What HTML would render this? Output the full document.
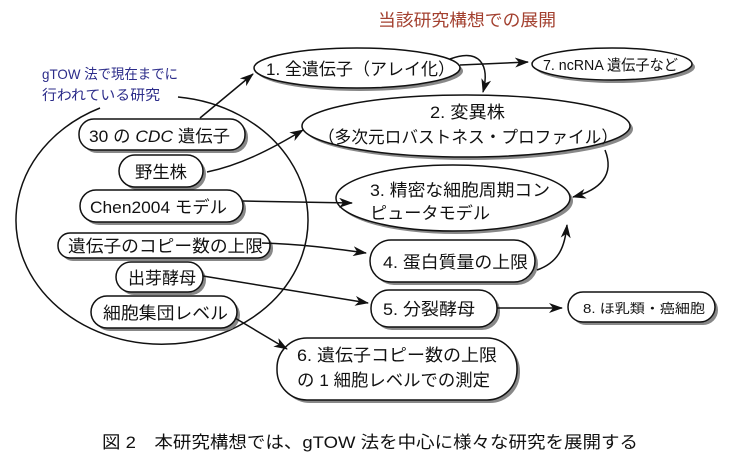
<!DOCTYPE html>
<html><head><meta charset="utf-8"><style>
body{margin:0;background:#fff}
svg{display:block}
text{font-family:"Liberation Sans","Noto Sans CJK JP",sans-serif;fill:#111}
</style></head><body>
<svg width="741" height="472" viewBox="0 0 741 472">
<defs>
<marker id="a" markerWidth="14" markerHeight="10" refX="13" refY="5" orient="auto" markerUnits="userSpaceOnUse"><path d="M0,0 L14,5 L0,10 L4,5 Z" fill="#111"/></marker>
</defs>
<text x="378" y="26" font-size="17" textLength="178" lengthAdjust="spacingAndGlyphs" style="fill:#a3402f">当該研究構想での展開</text>
<text x="42" y="79" font-size="14" textLength="136" lengthAdjust="spacingAndGlyphs" style="fill:#2c2c8a">gTOW 法で現在までに</text>
<text x="42" y="100" font-size="14" textLength="118" lengthAdjust="spacingAndGlyphs" style="fill:#2c2c8a">行われている研究</text>
<path d="M178,97 A146,124 0 1 1 100,108" fill="none" stroke="#111" stroke-width="1.5"/>
<g stroke="#111" stroke-width="1.5">
<g fill="#888" stroke="none">
<ellipse cx="360" cy="71" rx="103" ry="20"/>
<ellipse cx="615" cy="67" rx="80" ry="16"/>
<ellipse cx="469" cy="129" rx="164" ry="31"/>
<ellipse cx="456" cy="201" rx="117" ry="33"/>
<rect x="373" y="243" width="165" height="42" rx="21"/>
<rect x="374" y="293" width="126" height="37" rx="18"/>
<rect x="571" y="295" width="147" height="30" rx="15"/>
<rect x="280" y="341" width="240" height="62" rx="30"/>
<rect x="82" y="122" width="166" height="31" rx="15"/>
<rect x="122" y="158" width="84" height="32" rx="16"/>
<rect x="83" y="193" width="163" height="32" rx="16"/>
<rect x="61" y="236" width="212" height="25" rx="12"/>
<rect x="119" y="265" width="87" height="30" rx="15"/>
<rect x="94" y="299" width="146" height="32" rx="16"/>
</g>
<g fill="#fff">
<ellipse cx="357" cy="68" rx="103" ry="20"/>
<ellipse cx="612" cy="64" rx="80" ry="16"/>
<ellipse cx="466" cy="126" rx="164" ry="31"/>
<ellipse cx="453" cy="198" rx="117" ry="33"/>
<rect x="370" y="240" width="165" height="42" rx="21"/>
<rect x="371" y="290" width="126" height="37" rx="18"/>
<rect x="568" y="292" width="147" height="30" rx="15"/>
<rect x="277" y="338" width="240" height="62" rx="30"/>
<rect x="79" y="119" width="166" height="31" rx="15"/>
<rect x="119" y="155" width="84" height="32" rx="16"/>
<rect x="80" y="190" width="163" height="32" rx="16"/>
<rect x="58" y="233" width="212" height="25" rx="12"/>
<rect x="116" y="262" width="87" height="30" rx="15"/>
<rect x="91" y="296" width="146" height="32" rx="16"/>
</g>
<g fill="none" marker-end="url(#a)">
<path d="M200,118 L253,74"/>
<path d="M207,172 C240,165 270,150 303,130"/>
<path d="M243,201 L352,203"/>
<path d="M262,243 C300,244 330,248 366,253"/>
<path d="M203,276 L368,303"/>
<path d="M235,318 L287,349"/>
<path d="M460,65 L528,62"/>
<path d="M450,59 C480,48 490,65 483,92"/>
<path d="M605,150 C615,175 600,190 573,197"/>
<path d="M537,270 C560,262 565,245 567,225"/>
<path d="M497,308 L562,308"/>
</g>
</g>
<g lengthAdjust="spacingAndGlyphs">
<text x="266" y="75" font-size="17" textLength="189" lengthAdjust="spacingAndGlyphs">1. 全遺伝子（アレイ化）</text>
<text x="543" y="70" font-size="15" textLength="135" lengthAdjust="spacingAndGlyphs">7. ncRNA 遺伝子など</text>
<text x="430" y="118" font-size="17" textLength="75" lengthAdjust="spacingAndGlyphs">2. 変異株</text>
<text x="318" y="143" font-size="17" textLength="300" lengthAdjust="spacingAndGlyphs">（多次元ロバストネス・プロファイル）</text>
<text x="370" y="196" font-size="17" textLength="180" lengthAdjust="spacingAndGlyphs">3. 精密な細胞周期コン</text>
<text x="370" y="219" font-size="17" textLength="120" lengthAdjust="spacingAndGlyphs">ピュータモデル</text>
<text x="383" y="268" font-size="17" textLength="145" lengthAdjust="spacingAndGlyphs">4. 蛋白質量の上限</text>
<text x="383" y="315" font-size="17" textLength="92" lengthAdjust="spacingAndGlyphs">5. 分裂酵母</text>
<text x="583" y="313" font-size="13" textLength="122" lengthAdjust="spacingAndGlyphs">8. ほ乳類・癌細胞</text>
<text x="297" y="361" font-size="17" textLength="200" lengthAdjust="spacingAndGlyphs">6. 遺伝子コピー数の上限</text>
<text x="297" y="386" font-size="17" textLength="193" lengthAdjust="spacingAndGlyphs">の 1 細胞レベルでの測定</text>
<text x="89" y="142" font-size="17" textLength="141" lengthAdjust="spacingAndGlyphs">30 の <tspan font-style="italic">CDC</tspan> 遺伝子</text>
<text x="135" y="178" font-size="17" textLength="52" lengthAdjust="spacingAndGlyphs">野生株</text>
<text x="90" y="213" font-size="17" textLength="137" lengthAdjust="spacingAndGlyphs">Chen2004 モデル</text>
<text x="68" y="252" font-size="17" textLength="195" lengthAdjust="spacingAndGlyphs">遺伝子のコピー数の上限</text>
<text x="128" y="284" font-size="17" textLength="68" lengthAdjust="spacingAndGlyphs">出芽酵母</text>
<text x="103" y="319" font-size="17" textLength="125" lengthAdjust="spacingAndGlyphs">細胞集団レベル</text>
<text x="102" y="448" font-size="17" textLength="536" lengthAdjust="spacingAndGlyphs">図 2　本研究構想では、gTOW 法を中心に様々な研究を展開する</text>
</g>
</svg>
</body></html>
